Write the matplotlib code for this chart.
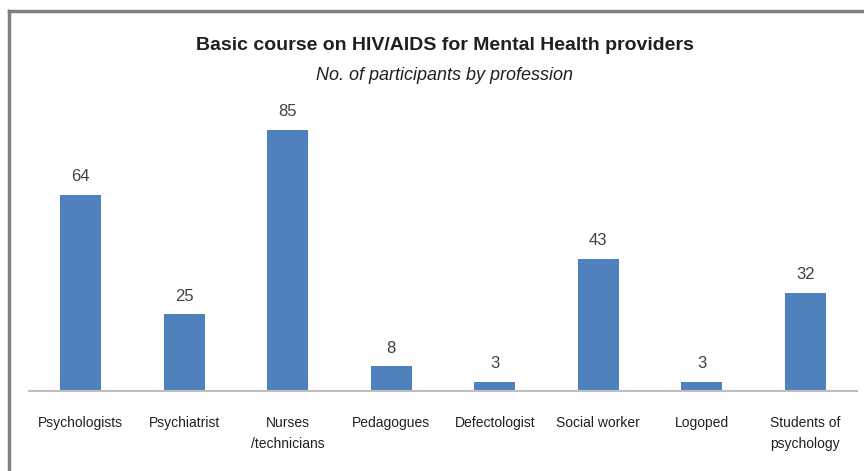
import matplotlib.pyplot as plt
from matplotlib.lines import Line2D

professions = ['Psychologists', 'Psychiatrist', 'Nurses\n/technicians', 'Pedagogues',
               'Defectologist', 'Social worker', 'Logoped', 'Students of\npsychology']
participants = [64, 25, 85, 8, 3, 43, 3, 32]

plt.rcParams['font.family'] = ['Liberation Sans', 'DejaVu Sans']

fig = plt.figure(figsize=(8.64, 4.71), dpi=100)
ax = fig.add_axes([29 / 864, 1 - 391 / 471, (857 - 29) / 864, (391 - 100) / 471])

x = range(len(professions))
bars = ax.bar(x, participants, width=0.4, color='#4F81BD')
ax.set_xlim(-0.5, len(professions) - 0.5)
ax.set_ylim(0, 94.8)

for b, v in zip(bars, participants):
    ax.text(b.get_x() + b.get_width() / 2, v + 3.5, str(v), ha='center', va='bottom',
            fontsize=12, color='#404040')

ax.set_xticks(list(x))
ax.set_xticklabels(professions, fontsize=10, color='#202020', va='top', linespacing=1.6)
ax.tick_params(axis='x', length=0, pad=18)
ax.set_yticks([])
for s in ['left', 'right', 'top']:
    ax.spines[s].set_visible(False)
ax.spines['bottom'].set_color('#BFBFBF')
ax.spines['bottom'].set_linewidth(1.5)

fig.text(445 / 864, 1 - 46 / 471, 'Basic course on HIV/AIDS for Mental Health providers',
         ha='center', va='center', fontsize=14, fontweight='bold', color='#202020')
fig.text(445 / 864, 1 - 76 / 471, 'No. of participants by profession',
         ha='center', va='center', fontsize=13, fontstyle='italic', color='#202020')

# frame around the chart (only top and left edges visible in the crop)
fig.add_artist(Line2D([9 / 864, 1], [1 - 11 / 471, 1 - 11 / 471], color='#808080', lw=2.5))
fig.add_artist(Line2D([9 / 864, 9 / 864], [0, 1 - 11 / 471], color='#808080', lw=2.5))

fig.savefig('out.png')
